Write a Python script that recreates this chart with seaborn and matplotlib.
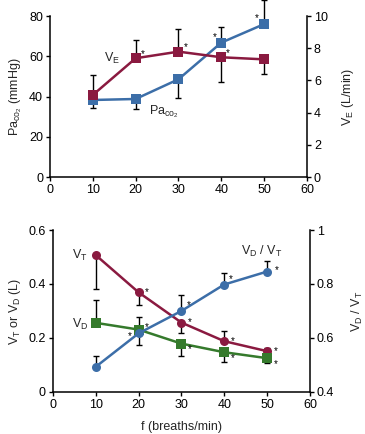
import matplotlib
matplotlib.use("Agg")
import matplotlib.pyplot as plt
import seaborn as sns
import numpy as np

# ---- data ----
f = [10, 20, 30, 40, 50]

paco2 = [38.3, 38.8, 48.6, 66.8, 76.0]
paco2_err_lo = [4.1, 4.9, 9.4, 0, 0]
paco2_err_hi = [0, 0, 0, 7.6, 12.0]

ve = [5.1, 7.38, 7.79, 7.44, 7.31]
ve_err_lo = [0, 0, 0, 1.55, 0.93]
ve_err_hi = [1.22, 1.13, 1.38, 0, 0]

vt = [0.507, 0.369, 0.257, 0.188, 0.151]
vt_err_lo = [0.126, 0.047, 0.037, 0, 0]
vt_err_hi = [0, 0, 0, 0.038, 0.012]

vd = [0.256, 0.231, 0.179, 0.147, 0.125]
vd_err_lo = [0, 0, 0.045, 0.037, 0.019]
vd_err_hi = [0.084, 0.047, 0, 0, 0]

vdvt = [0.493, 0.617, 0.700, 0.798, 0.846]
vdvt_err_lo = [0, 0.044, 0, 0, 0]
vdvt_err_hi = [0.041, 0, 0.059, 0.041, 0.040]

x_ticks = [0, 10, 20, 30, 40, 50, 60]

RED = "#8a1a40"
BLUE = "#3c6ea8"
GREEN = "#357a2c"

sns.set_style("ticks")
plt.rcParams["font.family"] = ["Liberation Sans", "DejaVu Sans"]
plt.rcParams["mathtext.fontset"] = "custom"
plt.rcParams["mathtext.rm"] = "Liberation Sans"
plt.rcParams["mathtext.it"] = "Liberation Sans"
plt.rcParams["font.size"] = 9
plt.rcParams["axes.linewidth"] = 1.1
plt.rcParams["xtick.major.size"] = 3
plt.rcParams["ytick.major.size"] = 3
plt.rcParams["xtick.major.width"] = 1.0
plt.rcParams["ytick.major.width"] = 1.0
plt.rcParams["xtick.labelsize"] = 9
plt.rcParams["ytick.labelsize"] = 9

fig = plt.figure(figsize=(3.65, 4.34), dpi=100)
fig.patch.set_facecolor("white")

ax1 = fig.add_axes([0.137, 0.592, 0.704, 0.371])
ax1r = ax1.twinx()
ax2 = fig.add_axes([0.145, 0.097, 0.704, 0.373])
ax2r = ax2.twinx()


def style(ax, axr):
    ax.spines["top"].set_visible(False)
    axr.spines["top"].set_visible(False)
    axr.spines["left"].set_visible(False)
    axr.spines["bottom"].set_visible(False)
    ax.spines["right"].set_visible(False)
    ax.set_xlim(0, 60)
    ax.set_xticks(x_ticks)
    ax.tick_params(direction="out", colors="black", pad=2)
    axr.tick_params(direction="out", colors="black", pad=2)
    for a in (ax, axr):
        a.set_facecolor("none")
        for s in a.spines.values():
            s.set_color("black")


def draw(ax, y, lo, hi, color, marker, ms):
    ax.errorbar(f, y, yerr=[lo, hi], fmt="none", ecolor="black",
                elinewidth=1.0, capsize=2, capthick=1.0, zorder=2, clip_on=False)
    sns.lineplot(x=f, y=y, ax=ax, color=color, marker=marker, markersize=ms,
                 markeredgewidth=0, linewidth=1.8, zorder=3, clip_on=False)


def star(ax, x, y, dx, dy):
    ax.annotate("*", (x, y), xytext=(dx, dy), textcoords="offset points",
                fontsize=7, ha="center", va="center", color="black")


# ---- top panel ----
style(ax1, ax1r)
draw(ax1, paco2, paco2_err_lo, paco2_err_hi, BLUE, "s", 7)
draw(ax1r, ve, ve_err_lo, ve_err_hi, RED, "s", 7)
ax1.set_ylim(0, 80)
ax1.set_yticks([0, 20, 40, 60, 80])
ax1r.set_ylim(0, 10)
ax1r.set_yticks([0, 2, 4, 6, 8, 10])
ax1.set_ylabel(r"Pa$_{\mathrm{co}_2}$ (mmHg)", labelpad=4)
ax1r.set_ylabel(r"V$_\mathrm{E}$ (L/min)", labelpad=9)
ax1.text(14.5, 59, r"V$_\mathrm{E}$", fontsize=9, ha="center", va="center")
ax1.text(26.6, 32.5, r"Pa$_{\mathrm{co}_2}$", fontsize=9, ha="center", va="center")
for xi, yi in zip(f[1:4], ve[1:4]):
    star(ax1r, xi, yi, 5, 3)
for xi, yi in zip(f[3:5], paco2[3:5]):
    star(ax1, xi, yi, -5, 4)

# ---- bottom panel ----
style(ax2, ax2r)
draw(ax2, vt, vt_err_lo, vt_err_hi, RED, "o", 6.5)
draw(ax2, vd, vd_err_lo, vd_err_hi, GREEN, "s", 7)
draw(ax2r, vdvt, vdvt_err_lo, vdvt_err_hi, BLUE, "o", 6.5)
ax2.set_ylim(0, 0.6)
ax2.set_yticks([0, 0.2, 0.4, 0.6])
ax2.set_yticklabels(["0", "0.2", "0.4", "0.6"])
ax2r.set_ylim(0.4, 1.0)
ax2r.set_yticks([0.4, 0.6, 0.8, 1.0])
ax2r.set_yticklabels(["0.4", "0.6", "0.8", "1"])
ax2.set_ylabel(r"V$_\mathrm{T}$ or V$_\mathrm{D}$ (L)", labelpad=4)
ax2r.set_ylabel(r"V$_\mathrm{D}$ / V$_\mathrm{T}$", labelpad=11)
ax2.set_xlabel("f (breaths/min)", labelpad=7)
ax2.text(6.3, 0.507, r"V$_\mathrm{T}$", fontsize=9, ha="center", va="center")
ax2.text(6.3, 0.25, r"V$_\mathrm{D}$", fontsize=9, ha="center", va="center")
ax2.text(48.8, 0.519, r"V$_\mathrm{D}$ / V$_\mathrm{T}$", fontsize=9, ha="center", va="center")
for xi, yi in zip(f[1:], vt[1:]):
    star(ax2, xi, yi, 6, 0)
star(ax2, f[1], vd[1], 6, 2)
for xi, yi in zip(f[2:], vd[2:]):
    star(ax2, xi, yi, 6, -4)
star(ax2r, f[1], vdvt[1], -6, -2)
for xi, yi in zip(f[2:4], vdvt[2:4]):
    star(ax2r, xi, yi, 5, 4)
star(ax2r, f[4], vdvt[4], 7, 1)

fig.savefig("out.png", dpi=100, facecolor="white")
